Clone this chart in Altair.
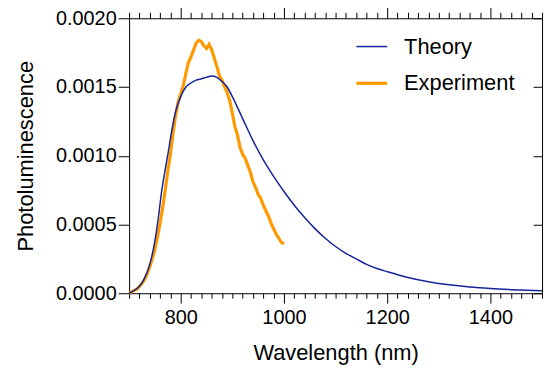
import altair as alt
import pandas as pd

# ---- data ----
theory_wl = [700, 710, 720, 730, 740, 750, 757, 763, 770, 776, 783, 790, 800, 810, 820,
             830, 840, 850, 860, 870, 880, 890, 900, 920, 940, 960, 980, 1000, 1020, 1040,
             1060, 1080, 1100, 1120, 1140, 1160, 1180, 1200, 1240, 1280, 1320, 1360, 1400,
             1440, 1470, 1500]
theory_pl = [0.0, 0.00002, 0.00005, 0.00011, 0.00021, 0.00038, 0.00056, 0.00074, 0.00090,
             0.00103, 0.00119, 0.00132, 0.00143, 0.00150, 0.00153, 0.00155, 0.00156, 0.00157,
             0.00158, 0.00157, 0.00154, 0.00150, 0.00143, 0.00127, 0.00111, 0.00097, 0.00085,
             0.00074, 0.00064, 0.00055, 0.00047, 0.00040, 0.00034, 0.00029, 0.00025, 0.00021,
             0.00018, 0.000157, 0.000115, 0.000084, 0.000061, 0.000045, 0.000034, 0.000026,
             0.000021, 0.000017]

exp_wl = [700, 705, 710, 715, 720, 725, 730, 735, 740, 745, 750, 755, 760, 765, 770, 775,
          780, 785, 790, 795, 800, 805, 810, 815, 820, 825, 830, 835, 840, 845, 850, 855,
          860, 865, 870, 875, 880, 885, 890, 895, 900, 905, 910, 915, 920, 925, 930, 935,
          940, 945, 950, 955, 960, 965, 970, 975, 980, 985, 990, 995, 1000]
exp_pl = [0.0, 0.00001, 0.00002, 0.00003, 0.00005, 0.00007, 0.00010, 0.00014, 0.00019,
          0.00025, 0.00032, 0.00041, 0.00051, 0.00062, 0.00075, 0.00089, 0.00101, 0.00116,
          0.00129, 0.00139, 0.00145, 0.00151, 0.00160, 0.00168, 0.00172, 0.00177, 0.00182,
          0.00184, 0.00183, 0.00180, 0.00178, 0.00181, 0.00177, 0.00171, 0.00165, 0.00158,
          0.00155, 0.00150, 0.00146, 0.00140, 0.00131, 0.00121, 0.00115, 0.00106, 0.00101,
          0.00098, 0.00093, 0.00088, 0.00081, 0.00077, 0.00072, 0.00069, 0.00064, 0.00060,
          0.00056, 0.00051, 0.00047, 0.00043, 0.00040, 0.00037, 0.00036]

series_names = ["Theory", "Experiment"]
series_colors = ["#14259a", "#ff9900"]
series_widths = [1.5, 3.2]

x_ticks = list(range(700, 1501, 20))
y_ticks = [0.0, 0.0005, 0.001, 0.0015, 0.002]

theory = pd.DataFrame({"wl": theory_wl, "pl": theory_pl, "series": "Theory"})
exp = pd.DataFrame({"wl": exp_wl, "pl": exp_pl, "series": "Experiment"})

FONT = "Liberation Sans"
W, H = 416, 277

xscale = alt.Scale(domain=[700, 1500], nice=False, zero=False)
yscale = alt.Scale(domain=[0, 0.002], nice=False, zero=False)

legend = alt.Legend(
    title=None, orient="none", legendX=227, legendY=12, symbolType="stroke",
    symbolSize=961, labelFontSize=22, labelFont=FONT, labelColor="black",
    labelOffset=15, rowPadding=8, padding=0,
)
color = alt.Color("series:N", scale=alt.Scale(domain=series_names, range=series_colors), legend=legend)
width = alt.StrokeWidth("series:N", scale=alt.Scale(domain=series_names, range=series_widths), legend=legend)

major_test = "datum.value % 200 === 0"

bottom_axis = alt.Axis(
    orient="bottom", values=x_ticks, format="d", grid=False,
    tickSize={"condition": {"test": major_test, "value": 10}, "value": 5},
    labelExpr=f"{major_test} ? datum.label : ''", labelOverlap=False, labelFlush=False,
    labelFontSize=20, labelPadding=5, title="Wavelength (nm)", titleFontSize=22,
    titlePadding=15,
)
top_axis = alt.Axis(
    orient="top", values=x_ticks, grid=False, labels=False, title=None,
    tickSize={"condition": {"test": major_test, "value": 11}, "value": 6},
)
left_axis = alt.Axis(
    orient="left", values=y_ticks, format=".4f", grid=False, tickSize=11,
    labelFontSize=20, labelPadding=2, title="Photoluminescence", titleFontSize=22,
    titlePadding=18,
)
right_axis = alt.Axis(
    orient="left", offset=-W, values=y_ticks, grid=False, labels=False, title=None,
    tickSize=9,
)

exp_line = alt.Chart(exp).mark_line(interpolate="linear").encode(
    x=alt.X("wl:Q", scale=xscale, axis=bottom_axis),
    y=alt.Y("pl:Q", scale=yscale, axis=left_axis),
    color=color, strokeWidth=width,
)
theory_line = alt.Chart(theory).mark_line(interpolate="monotone").encode(
    x=alt.X("wl:Q", scale=xscale, axis=top_axis),
    y=alt.Y("pl:Q", scale=yscale, axis=right_axis),
    color=color, strokeWidth=width,
)

chart = alt.layer(exp_line, theory_line).resolve_axis(
    x="independent", y="independent"
).properties(
    width=W, height=H,
    autosize=alt.AutoSizeParams(type="none"),
    padding={"left": 122, "top": 9, "right": 5, "bottom": 75},
).configure_view(stroke=None).configure_axis(
    domainColor="black", tickColor="black", labelColor="black", titleColor="black",
    labelFont=FONT, titleFont=FONT, titleFontWeight="normal", domainWidth=1, tickWidth=1,
)

chart.save("out.html", embed_options={"renderer": "svg", "actions": False})
